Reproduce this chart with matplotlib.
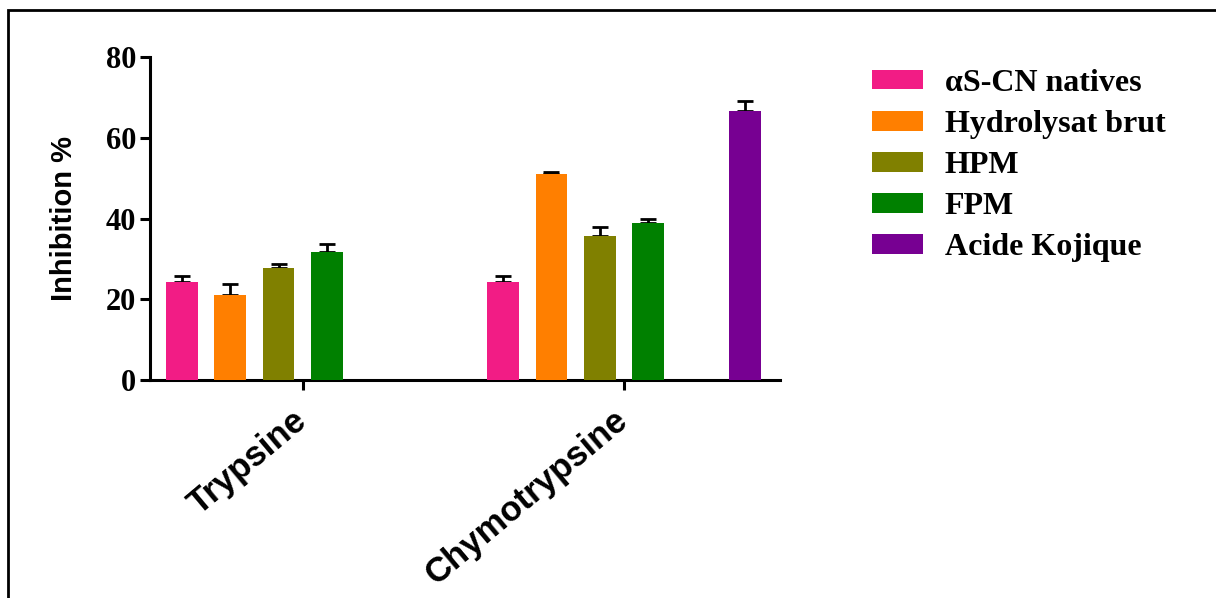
import numpy as np
import matplotlib
matplotlib.use('Agg')
import matplotlib.pyplot as plt
from matplotlib.patches import Rectangle

categories = ['Trypsine', 'Chymotrypsine']
series = ['\u03b1S-CN natives', 'Hydrolysat brut', 'HPM', 'FPM', 'Acide Kojique']
colors = ['#F21C85', '#FF7F00', '#808000', '#008000', '#770092']

alpha_cn = [24.4, 24.4]
hydrolysat = [21.0, 51.0]
hpm = [27.7, 35.7]
fpm = [31.8, 38.9]
kojique = [np.nan, 66.7]

alpha_cn_err = [1.4, 1.4]
hydrolysat_err = [2.7, 0.5]
hpm_err = [1.1, 2.2]
fpm_err = [1.9, 1.1]
kojique_err = [np.nan, 2.4]

values = [alpha_cn, hydrolysat, hpm, fpm, kojique]
errors = [alpha_cn_err, hydrolysat_err, hpm_err, fpm_err, kojique_err]

serif = ['Liberation Serif', 'DejaVu Serif']
sans = ['Liberation Sans', 'DejaVu Sans']

fig = plt.figure(figsize=(12.16, 5.98), dpi=100)
ax = fig.add_axes([0.1234, 0.3645, 0.518, 0.5401])

# each group has 6 slots, slot 4 left empty
slots = [0, 1, 2, 3, 5]
group_start = np.array([0.0, 6.65])
width = 0.66

for k, name in enumerate(series):
    x = group_start + slots[k]
    v = np.array(values[k], dtype=float)
    e = np.array(errors[k], dtype=float)
    ax.bar(x, v, width=width, color=colors[k], label=name, zorder=3)
    ax.errorbar(x, v, yerr=[np.zeros_like(e), e], fmt='none', ecolor='black',
                elinewidth=2.0, capsize=5.8, capthick=2.0, zorder=2)

ax.set_xlim(-0.66, 12.38)
ax.set_ylim(0, 80)
ax.set_yticks([0, 20, 40, 60, 80])
ax.set_xticks(group_start + 2.5)
ax.set_xticklabels(categories, rotation=40, ha='right', va='center',
                   rotation_mode='anchor', fontsize=25, fontweight='bold',
                   family=sans)
for lab in ax.get_yticklabels():
    lab.set_fontfamily(serif)
    lab.set_fontweight('bold')
    lab.set_fontsize(22)

ax.set_ylabel('Inhibition %', fontsize=21, fontweight='bold', family=sans,
              labelpad=20)

for s in ['top', 'right']:
    ax.spines[s].set_visible(False)
for s in ['left', 'bottom']:
    ax.spines[s].set_linewidth(2.2)
ax.tick_params(axis='both', width=2.2, length=7, pad=3)
ax.tick_params(axis='x', pad=19)

fig.legend(loc='upper left', bbox_to_anchor=(0.717, 0.885), frameon=False,
           prop={'family': serif, 'weight': 'bold', 'size': 23},
           handlelength=1.6, handleheight=0.58, handletextpad=0.68,
           labelspacing=0.38, borderpad=0, borderaxespad=0)

fig.patches.append(Rectangle((8 / 1216, -0.05), 1.1, 1 - 10 / 598 + 0.05,
                             transform=fig.transFigure, fill=False,
                             edgecolor='black', linewidth=2))

plt.savefig('out.png', dpi=100)
